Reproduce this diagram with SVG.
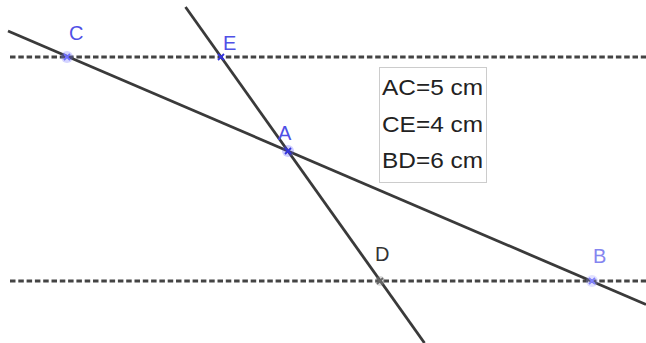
<svg xmlns="http://www.w3.org/2000/svg" width="646" height="343" viewBox="0 0 646 343">
<style>
.ln{stroke:#3a3a3a;stroke-width:2.8;fill:none}
.dash{stroke:#444;stroke-width:2.8;stroke-dasharray:5.5 2.8;fill:none}
.lbl{font-family:"Liberation Sans",Arial,sans-serif;font-size:20px}
.box{font-family:"Liberation Sans",Arial,sans-serif;font-size:22.5px;fill:#222}
.halo{opacity:0.3}
.x{stroke-width:1.8}
</style>
<rect width="646" height="343" fill="#ffffff"/>
<g id="connectors">
<line class="dash" x1="10" y1="57" x2="646" y2="57"/>
<line class="dash" x1="10" y1="281" x2="646" y2="281"/>
<line class="ln" x1="8" y1="31" x2="646" y2="304.5"/>
<line class="ln" x1="185.5" y1="7" x2="424.5" y2="343"/>
</g>
<g id="box">
<rect x="379.5" y="67.5" width="107" height="115" fill="#ffffff" stroke="#cccccc" stroke-width="1"/>
<text class="box" x="382" y="95" textLength="101" lengthAdjust="spacingAndGlyphs">AC=5 cm</text>
<text class="box" x="382" y="132" textLength="101" lengthAdjust="spacingAndGlyphs">CE=4 cm</text>
<text class="box" x="382" y="168" textLength="101" lengthAdjust="spacingAndGlyphs">BD=6 cm</text>
</g>
<g id="C">
<circle class="halo" cx="67" cy="57" r="6" fill="#6f6fff"/>
<path class="x" d="M64,54 L70,60 M64,60 L70,54" stroke="#6f6fff"/>
<text class="lbl" x="69" y="40" fill="#5050e6">C</text>
</g>
<g id="E">
<path class="x" d="M218,54 L224,60 M218,60 L224,54" stroke="#3333dd"/>
<text class="lbl" x="223" y="50" fill="#5050e6">E</text>
</g>
<g id="A">
<circle class="halo" cx="288" cy="151" r="6" fill="#5a5aff"/>
<path class="x" d="M285,148 L291,154 M285,154 L291,148" stroke="#3333dd"/>
<text class="lbl" x="278" y="140" fill="#5050e6">A</text>
</g>
<g id="D">
<circle class="halo" cx="380" cy="281" r="5" fill="#888"/>
<path class="x" d="M377,278 L383,284 M377,284 L383,278" stroke="#666"/>
<text class="lbl" x="375" y="261" fill="#333">D</text>
</g>
<g id="B">
<circle class="halo" cx="592" cy="281" r="6" fill="#9a9aff"/>
<path class="x" d="M589,278 L595,284 M589,284 L595,278" stroke="#8080ff"/>
<text class="lbl" x="593" y="263" fill="#8585f0">B</text>
</g>
</svg>
